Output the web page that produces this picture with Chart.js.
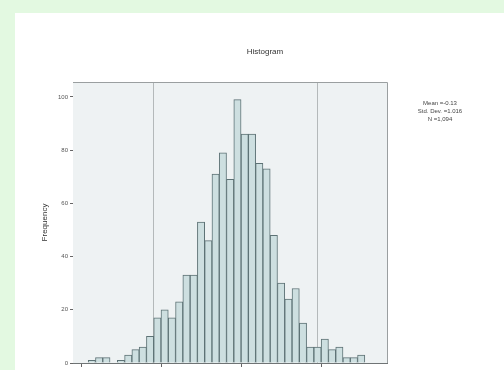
<!DOCTYPE html>
<html>
<head>
<meta charset="utf-8">
<script src="https://cdn.jsdelivr.net/npm/chart.js@4/dist/chart.umd.min.js"></script>
<style>
  html, body { margin: 0; padding: 0; width: 504px; height: 370px; overflow: hidden; background: #e3f9e1; }
  #panel { position: absolute; left: 15px; top: 13px; width: 489px; height: 400px; background: #ffffff; }
  #wrap { position: absolute; left: 0; top: 0; width: 504px; height: 392px; }
</style>
</head>
<body>
<div id="panel"></div>
<div id="wrap"><canvas id="c" width="504" height="392"></canvas></div>
<script>
// Histogram bins: first lower edge and common width, then the count in each bin
const binStart = -3.82;
const binWidth = 0.182;
const counts = [1, 2, 2, 0, 1, 3, 5, 6, 10, 17, 20, 17, 23, 33, 33, 53, 46, 71, 79, 69,
                99, 86, 86, 75, 73, 48, 30, 24, 28, 15, 6, 6, 9, 5, 6, 2, 2, 3];
const xTicks = [-4, -2, 0, 2];
const yTicks = [0, 20, 40, 60, 80, 100];
const refLines = [-2.2, 1.9];
const chartTitle = 'Histogram';
const yTitle = 'Frequency';

const points = counts.map((c, i) => ({ x: binStart + (i + 0.5) * binWidth, y: c }));

// summary statistics shown beside the plot
const n = counts.reduce((a, b) => a + b, 0);
const mean = points.reduce((s, p) => s + p.x * p.y, 0) / n;
const sd = Math.sqrt(points.reduce((s, p) => s + p.y * (p.x - mean) ** 2, 0) / (n - 1));
const statLines = [
  'Mean =' + mean.toFixed(2),
  'Std. Dev. =' + sd.toFixed(3),
  'N =' + n.toLocaleString('en-US')
];

const FONT = "'Liberation Sans', Arial, sans-serif";

const decor = {
  id: 'decor',
  beforeDatasetsDraw(chart) {
    const { ctx, chartArea: a, scales } = chart;
    ctx.save();
    ctx.fillStyle = '#eef2f3';
    ctx.fillRect(a.left, a.top, a.right - a.left, a.bottom - a.top);
    ctx.strokeStyle = '#b4b9ba';
    ctx.lineWidth = 1;
    refLines.forEach(v => {
      const x = Math.round(scales.x.getPixelForValue(v)) + 0.5;
      ctx.beginPath();
      ctx.moveTo(x, a.top);
      ctx.lineTo(x, a.bottom);
      ctx.stroke();
    });
    ctx.restore();
  },
  afterDraw(chart) {
    const { ctx, chartArea: a } = chart;
    ctx.save();
    // frame around the plot
    ctx.strokeStyle = '#9a9fa0';
    ctx.lineWidth = 1;
    ctx.beginPath();
    ctx.moveTo(a.left, a.top + 0.5);
    ctx.lineTo(a.right + 0.5, a.top + 0.5);
    ctx.lineTo(a.right + 0.5, a.bottom);
    ctx.stroke();
    // title
    ctx.fillStyle = '#333';
    ctx.font = '8px ' + FONT;
    ctx.textAlign = 'center';
    ctx.textBaseline = 'middle';
    ctx.fillText(chartTitle, 265, 52);
    // statistics box
    ctx.font = '6px ' + FONT;
    ctx.fillStyle = '#444';
    statLines.forEach((t, i) => ctx.fillText(t, 440, 103 + i * 8));
    ctx.restore();
  }
};

new Chart(document.getElementById('c'), {
  type: 'bar',
  data: {
    datasets: [{
      data: points,
      backgroundColor: '#cddfe0',
      borderColor: '#5d7275',
      borderWidth: 1,
      barPercentage: 1,
      categoryPercentage: 1,
      grouped: false
    }]
  },
  options: {
    responsive: false,
    animation: false,
    layout: { padding: { left: 36, right: 117, top: 82, bottom: 0 } },
    plugins: { legend: { display: false }, tooltip: { enabled: false } },
    scales: {
      x: {
        type: 'linear',
        offset: false,
        min: -4.2,
        max: 3.65,
        afterBuildTicks(s) { s.ticks = xTicks.map(v => ({ value: v })); },
        afterFit(s) { s.height = 29; },
        grid: { drawOnChartArea: false, drawTicks: true, tickLength: 4, color: '#666', offset: false },
        border: { display: true, color: '#6f7475', width: 1 },
        ticks: { font: { size: 7, family: FONT }, color: '#555', padding: 2 }
      },
      y: {
        min: 0,
        max: 105.6,
        afterBuildTicks(s) { s.ticks = yTicks.map(v => ({ value: v })); },
        afterFit(s) { s.width = 37; },
        grid: { drawOnChartArea: false, drawTicks: true, tickLength: 3, color: '#666' },
        border: { display: true, color: '#6f7475', width: 1 },
        ticks: { font: { size: 6, family: FONT }, color: '#555', padding: 2 },
        title: { display: true, text: yTitle, font: { size: 8, family: FONT }, color: '#333', padding: { top: 4, bottom: 0 } }
      }
    }
  },
  plugins: [decor]
});
</script>
</body>
</html>
